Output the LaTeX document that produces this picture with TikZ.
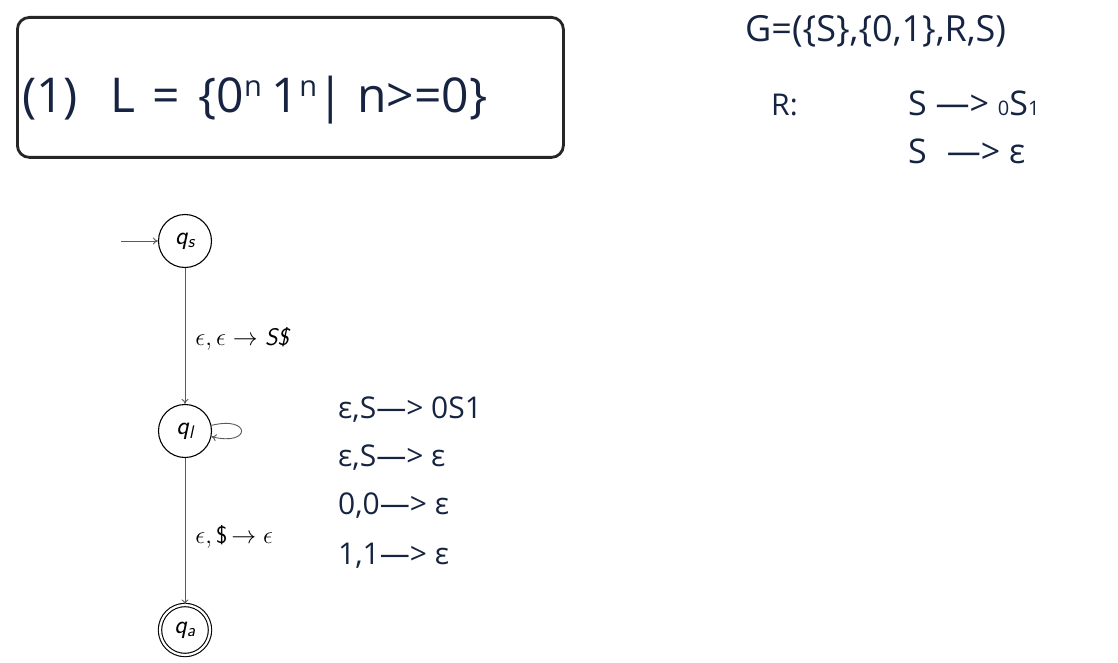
\documentclass[tikz,border=0pt]{standalone}
\usepackage{fontspec}
\newfontfamily\handfont{Open Sans}
\usetikzlibrary{arrows.meta}
\definecolor{navy}{RGB}{22,36,66}
\definecolor{edgegray}{RGB}{90,90,90}
\tikzset{
  state/.style={circle, draw=black, line width=1.1pt, minimum size=53pt, inner sep=0pt, font=\fontsize{26}{26}\selectfont\sffamily\itshape},
  accept/.style={state, double, double distance=2.2pt, minimum size=50pt},
  edge/.style={draw=edgegray, line width=0.9pt, -{To[length=5pt,width=7pt]}},
  elabel/.style={font=\fontsize{24}{24}\selectfont, anchor=west, inner sep=0pt},
  navytext/.style={text=navy, anchor=base west, inner sep=0pt},
}
\begin{document}
\begin{tikzpicture}[x=1pt,y=-1pt]
\useasboundingbox (0,0) rectangle (1118,663);
% title box
\node[draw=black!85, line width=2.8pt, rounded corners=12pt, minimum width=546pt, minimum height=140pt, anchor=north west] (box) at (16,16) {};
\node[navytext, font=\handfont\fontsize{48}{48}\selectfont] (title) at (22,113)
  {(1)\hspace{32pt}L\hspace{18pt}=\hspace{18pt}\{0\raisebox{16pt}{\fontsize{29}{29}\selectfont n}\hspace{10pt}1\raisebox{16pt}{\fontsize{29}{29}\selectfont n}|\hspace{14pt}n>=0\}};
% grammar
\node[navytext, font=\handfont\fontsize{36}{36}\selectfont] (gram) at (745,42) {G=(\{S\},\{0,1\},R,S)};
\node[navytext, font=\handfont\fontsize{30}{30}\selectfont] (rlab) at (771,116) {R:};
\node[navytext, font=\handfont\fontsize{34}{34}\selectfont] (rule1) at (908,116) {S —> {\fontsize{20}{20}\selectfont 0}S{\fontsize{20}{20}\selectfont 1}};
\node[navytext, font=\handfont\fontsize{34}{34}\selectfont] (rule2) at (908,164) {S\hspace{20pt}—> ε};
% automaton
\node[state] (qs) at (185,241) {q\textsubscript{s}};
\node[state] (ql) at (185,431) {q\textsubscript{l}};
\node[accept] (qa) at (185,630) {q\textsubscript{a}};
\coordinate (init) at (121,241);
\draw[edge] (init) -- (qs);
\draw[edge] (qs) -- node[elabel, xshift=10pt, yshift=-3pt] (l1) {$\epsilon,\epsilon\rightarrow$ \textsf{\itshape S\$}} (ql);
\draw[edge] (ql) -- node[elabel, xshift=10pt, yshift=-6pt] (l2) {$\epsilon,$\,\textsf{\$}\,$\rightarrow \epsilon$} (qa);
\draw[edge] (ql.12) .. controls +(40,-10) and +(40,10) .. (ql.-12);
% loop labels
\node[navytext, font=\handfont\fontsize{30}{30}\selectfont] (t1) at (338,418) {ε,S—> 0S1};
\node[navytext, font=\handfont\fontsize{30}{30}\selectfont] (t2) at (338,466) {ε,S—> ε};
\node[navytext, font=\handfont\fontsize{30}{30}\selectfont] (t3) at (338,514) {0,0—> ε};
\node[navytext, font=\handfont\fontsize{30}{30}\selectfont] (t4) at (338,564) {1,1—> ε};
\end{tikzpicture}
\end{document}
